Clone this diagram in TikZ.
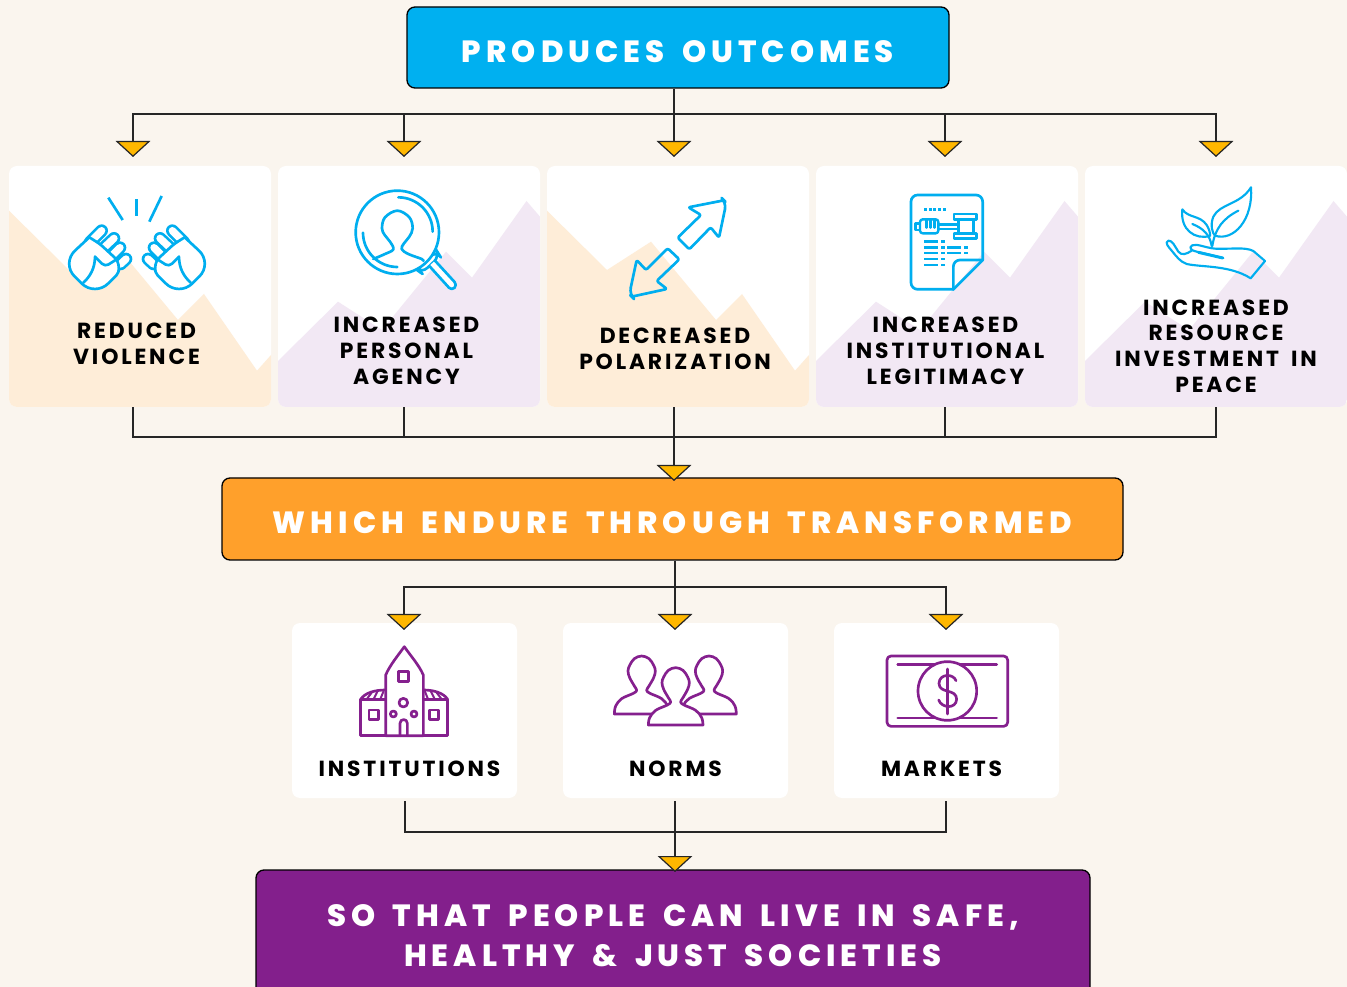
\documentclass[tikz,border=0pt]{standalone}
\usepackage{fontspec}
\setmainfont{Poppins}
\newfontfamily\lblface[LetterSpace=13,WordSpace=1.6]{Poppins}
\newfontfamily\hdface[LetterSpace=16.5,WordSpace=1.6,BoldFont={Poppins ExtraBold}]{Poppins}
\usetikzlibrary{arrows.meta}
\definecolor{bgc}{HTML}{FAF5EE}
\definecolor{peach}{HTML}{FEEDD8}
\definecolor{lilac}{HTML}{F2E8F4}
\definecolor{iconblue}{HTML}{00AEEF}
\definecolor{headblue}{HTML}{00B0F0}
\definecolor{iconpurple}{HTML}{85208E}
\definecolor{headorange}{HTML}{FFA02B}
\definecolor{headpurple}{HTML}{831F8C}
\definecolor{tipc}{HTML}{FFB700}
\def\px{0.75pt}
\tikzset{
  headbox/.style={draw=black,line width=1pt,rounded corners=6pt,text=white,align=center,inner sep=0pt,
    font=\hdface\bfseries\fontsize{23pt}{30pt}\selectfont},
  card/.style={fill=white,rounded corners=6pt,inner sep=0pt,minimum width=262*\px,minimum height=241*\px},
  smallcard/.style={fill=white,rounded corners=6pt,inner sep=0pt,minimum width=225*\px,minimum height=175*\px},
  lbl/.style={align=center,inner sep=0pt,text=black,font=\lblface\bfseries\fontsize{16.4pt}{19.3pt}\selectfont},
  conn/.style={draw=black!85,line width=0.9pt},
  tipconn/.style={conn,line join=miter,-{Triangle[width=26pt,length=12pt,fill=tipc]}},
  zoomcs/.style={x=0.25pt,y=-0.25pt},
  iconb/.style={draw=iconblue,line width=2pt,line join=round,line cap=round},
  iconp/.style={draw=iconpurple,line width=2pt,line join=round,line cap=round},
}
% card mountains, first argument is the left edge of the card
\newcommand\peachland[1]{\begin{scope}[shift={(#1,0)}]
  \clip[rounded corners=6pt] (0,166) rectangle (262,407);
  \fill[peach] (0,210.7) -- (60,270) -- (104,241.7) -- (169,320) -- (195,294) -- (248,370.7) -- (262,355) -- (262,407) -- (0,407) -- cycle;
\end{scope}}
\newcommand\lilacland[1]{\begin{scope}[shift={(#1,0)}]
  \clip[rounded corners=6pt] (0,166) rectangle (262,407);
  \fill[lilac] (0,361) -- (60,301.7) -- (104,330) -- (168,251.7) -- (194,277.7) -- (248.5,201) -- (262,216.7) -- (262,407) -- (0,407) -- cycle;
\end{scope}}
\newcommand\capsule[2]{\draw[iconblue,line width=9.5pt,line cap=round] #1 -- #2;\draw[white,line width=5.5pt,line cap=round] #1 -- #2;}
\newcommand\fistshape{%
  \capsule{(120,187)}{(155,152)}
  \capsule{(160,205)}{(192,175)}
  \capsule{(185,228)}{(210,203)}
  \capsule{(212,252)}{(228,237)}
  \draw[iconb,fill=white,rounded corners=14pt] (118,172) -- (34,250) -- (135,350) [rounded corners=3pt] -- (208,277) -- (204,242) -- (150,192) [rounded corners=6pt] -- (118,172);
  \draw[iconb,rounded corners=3pt] (200,238) -- (165,260) -- (135,230);
  \draw[iconb] (135,230) .. controls (135,265) and (120,290) .. (100,308);
}
\newcommand\bust[2]{\begin{scope}[shift={#1}]
  \draw[iconp,fill=white] (-82,#2) -- (82,#2) -- plot[smooth,tension=.6] coordinates {(82,#2) (78,150) (60,128) (25,112) (15,103) (22,90) (36,65) (41,45) (36,28) (22,8) (0,0) (-22,8) (-36,28) (-41,45) (-36,65) (-22,90) (-15,103) (-25,112) (-60,128) (-78,150) (-82,#2)} -- cycle;
\end{scope}}
\begin{document}
\begin{tikzpicture}[x=0.75pt,y=-0.75pt]
\useasboundingbox (0,0) rectangle (1347,987);
\fill[bgc] (0,0) rectangle (1347,987);

% cards
\node[card] (c1) at (140,286.5) {};
\node[card] (c2) at (409,286.5) {};
\node[card] (c3) at (678,286.5) {};
\node[card] (c4) at (947,286.5) {};
\node[card] (c5) at (1216,286.5) {};
\peachland{9}\lilacland{278}\peachland{547}\lilacland{816}\lilacland{1085}

% banners
\node[headbox,fill=headblue,minimum width=542*\px,minimum height=81*\px,text height=23pt,text depth=0pt] (head) at (678,47.5) {PRODUCES OUTCOMES};
\node[headbox,fill=headorange,minimum width=901*\px,minimum height=82*\px,text height=22pt,text depth=0pt] (mid) at (672.5,519) {WHICH ENDURE THROUGH TRANSFORMED};
\node[headbox,fill=headpurple,minimum width=834*\px,minimum height=132*\px] (end) at (673,936) {SO THAT PEOPLE CAN LIVE IN SAFE,\\HEALTHY \& JUST SOCIETIES};

% small cards
\node[smallcard] (s1) at (404.5,710.5) {};
\node[smallcard] (s2) at (675.5,710.5) {};
\node[smallcard] (s3) at (946.5,710.5) {};

% labels
\node[lbl] (l1) at (136.5,343.5) {REDUCED\\VIOLENCE};
\node[lbl] (l2) at (406.5,351) {INCREASED\\PERSONAL\\AGENCY};
\node[lbl] (l3) at (675,349) {DECREASED\\POLARIZATION};
\node[lbl] (l4) at (945.5,351) {INCREASED\\INSTITUTIONAL\\LEGITIMACY};
\node[lbl] (l5) at (1216,346) {INCREASED\\RESOURCE\\INVESTMENT IN\\PEACE};
\node[lbl] (l6) at (409.5,769) {INSTITUTIONS};
\node[lbl] (l7) at (675.5,769) {NORMS};
\node[lbl] (l8) at (941.5,769) {MARKETS};

% connectors
\coordinate (b1) at (674,114);
\coordinate (t1) at (133,157);\coordinate (t2) at (404,157);\coordinate (t3) at (674,157);\coordinate (t4) at (945,157);\coordinate (t5) at (1216,157);
\draw[conn] (head.south -| b1) -- (b1);
\draw[tipconn] (b1) -| (t1);
\draw[tipconn] (b1) -| (t2);
\draw[tipconn] (b1) -- (t3);
\draw[tipconn] (b1) -| (t4);
\draw[tipconn] (b1) -| (t5);

\coordinate (b2) at (674,437);
\coordinate (t6) at (674,481);
\draw[conn] (c1.south -| t1) |- (b2);
\draw[conn] (c2.south -| t2) |- (b2);
\draw[conn] (c4.south -| t4) |- (b2);
\draw[conn] (c5.south -| t5) |- (b2);
\draw[tipconn] (c3.south -| t3) -- (t6);

\coordinate (b3) at (675,587);
\coordinate (t7) at (404,630);\coordinate (t8) at (675,630);\coordinate (t9) at (946,630);
\draw[conn] (mid.south -| b3) -- (b3);
\draw[tipconn] (b3) -| (t7);
\draw[tipconn] (b3) -- (t8);
\draw[tipconn] (b3) -| (t9);

\coordinate (b4) at (675,832);
\coordinate (t10) at (675,872);
\coordinate (f1) at (405,801);\coordinate (f3) at (946,801);\coordinate (f2) at (675,801);
\draw[conn] (f1) |- (b4);
\draw[conn] (f3) |- (b4);
\draw[tipconn] (f2) -- (t10);

% --- icons ---
% fists and sparks
\begin{scope}[shift={(50,180)},zoomcs]
  \draw[iconb,line cap=butt] (175,53) -- (218,120);
  \draw[iconb,line cap=butt] (260,58) -- (260,108);
  \draw[iconb,line cap=butt] (335,48) -- (298,125);
  \fistshape
\end{scope}
\begin{scope}[shift={(224,180)},x=-0.25pt,y=-0.25pt]
  \fistshape
\end{scope}
% magnifier and person
\begin{scope}[shift={(340,180)},zoomcs]
  \draw[iconb,fill=white,rounded corners=6pt] (228,268) -- (290,212) -- (300,228) -- (245,280) -- cycle;
  \draw[iconb,fill=white,rounded corners=3pt] (268,258) -- (335,332) -- (352,315) -- (285,242);
  \draw[iconb,fill=white] (172,157) circle[radius=125];
  \draw[iconb] (175,52) arc[start angle=-90,end angle=0,radius=103];
  \draw[iconb] (69,158) arc[start angle=180,end angle=90,radius=103];
  \draw[iconb] plot[smooth,tension=.6] coordinates {(100,237) (135,222) (160,208) (150,185) (134,165) (126,145) (135,112) (172,92) (208,112) (218,145) (208,170) (192,190) (185,207) (205,222) (245,237) (250,243)};
\end{scope}
% double arrow
\begin{scope}[shift={(620,190)},zoomcs]
  \draw[iconb,rounded corners=1.5pt] (205,52) -- (312,31) [rounded corners=5pt] -- (319,38) [rounded corners=1.5pt] -- (297,143) -- (272,112) -- (208,178) -- (173,143) -- (243,75) -- cycle;
  \draw[iconb,rounded corners=1.5pt] (143,175) -- (178,208) -- (110,273) -- (141,297) -- (35,320) [rounded corners=5pt] -- (28,313) [rounded corners=1.5pt] -- (50,210) -- (78,240) -- cycle;
\end{scope}
% document and gavel
\begin{scope}[shift={(900,185)},zoomcs]
  \draw[iconb,rounded corners=5pt] (160,313) -- (33,313) -- (33,30) -- (248,30) -- (248,225);
  \draw[iconb] (248,225) -- (160,313);
  \draw[iconb,rounded corners=5pt] (160,313) -- (160,225) -- (248,225);
  \foreach \xa in {72,86,100,115,129} \fill[iconblue] (\xa,68) rectangle +(9,10);
  \draw[iconb,line width=1.8pt,rounded corners=2pt] (60,103) rectangle (115,145);
  \draw[iconb,line width=1.8pt] (46,115) rectangle (60,135);
  \draw[iconb,line width=1.8pt] (115,118) -- (175,118) (115,132) -- (175,132);
  \draw[iconb,line width=1.8pt] (79,105) -- (79,128) (92,105) -- (92,128) (104,105) -- (104,128);
  \draw[iconb,line width=1.8pt] (175,103) rectangle (220,145);
  \draw[iconb,line width=1.8pt] (162,87) rectangle (230,103);
  \draw[iconb,line width=1.8pt] (162,145) rectangle (230,160);
  \foreach \ya in {170,188,205,223,241} {\fill[iconblue] (72,\ya-3.5) rectangle (113,\ya+3.5);\fill[iconblue] (124,\ya-3.5) rectangle (135,\ya+3.5);}
  \foreach \ya in {188,205} {\fill[iconblue] (142,\ya-3.5) rectangle (183,\ya+3.5);\fill[iconblue] (193,\ya-3.5) rectangle (204,\ya+3.5);}
\end{scope}
% plant in a hand
\begin{scope}[shift={(1155,180)},zoomcs]
  \draw[iconb,line width=1.6pt] (288,22) .. controls (255,75) and (195,70) .. (175,110) .. controls (165,135) and (172,160) .. (180,167) .. controls (235,185) and (295,120) .. (288,22);
  \draw[iconb,line width=1.6pt] (250,92) .. controls (205,115) and (180,145) .. (172,198);
  \draw[iconb,line width=1.6pt] (82,88) .. controls (100,115) and (135,105) .. (155,135) .. controls (163,148) and (166,160) .. (165,168) .. controls (120,180) and (75,150) .. (82,88);
  \draw[iconb,line width=1.6pt] (112,132) .. controls (145,145) and (165,165) .. (170,198);
  \draw[iconb,line width=1.6pt] (330,243) -- (295,213) .. controls (270,200) and (230,208) .. (180,206) .. controls (150,203) and (125,190) .. (112,196) .. controls (100,202) and (108,212) .. (125,215) -- (205,234);
  \draw[iconb,line width=2.2pt] (130,217) -- (203,234);
  \draw[iconb,line width=1.6pt] (110,212) .. controls (95,222) and (80,228) .. (70,215) .. controls (60,200) and (52,180) .. (40,182) .. controls (28,188) and (40,200) .. (50,212) .. controls (65,230) and (75,245) .. (95,252) .. controls (140,262) and (225,255) .. (287,295) -- (330,243);
\end{scope}
% building
\begin{scope}[shift={(350,640)},zoomcs]
  \draw[iconp] (32,178) rectangle (293,287);
  \draw[iconp] (32,178) .. controls (45,158) and (75,150) .. (107,150);
  \draw[iconp] (293,178) .. controls (280,158) and (250,150) .. (220,150);
  \draw[iconp,line width=1.5pt] (52,175) -- (65,158) (72,175) -- (82,155) (92,175) -- (100,155);
  \draw[iconp,line width=1.5pt] (273,175) -- (260,158) (253,175) -- (243,155) (233,175) -- (225,155);
  \draw[iconp,fill=white] (107,287) -- (107,105) .. controls (120,75) and (145,45) .. (163,20) .. controls (180,45) and (207,75) .. (220,105) -- (220,287) -- cycle;
  \draw[iconp] (146,95) rectangle (175,125);
  \draw[iconp] (160,188) circle[radius=13];
  \draw[iconp] (130,222) circle[radius=9];
  \draw[iconp] (192,222) circle[radius=9];
  \draw[iconp] (150,287) -- (150,250) .. controls (150,235) and (172,235) .. (172,250) -- (172,287);
  \draw[iconp] (57,210) rectangle (85,238);
  \draw[iconp] (238,210) rectangle (266,238);
\end{scope}
% three people
\begin{scope}[shift={(605,645)},zoomcs]
  \bust{(110,33)}{174}
  \bust{(312,33)}{174}
  \bust{(212,68)}{172}
\end{scope}
% banknote
\begin{scope}[shift={(830,620)},zoomcs]
  \draw[iconp,rounded corners=3pt] (171,108) rectangle (533,319);
  \draw[iconp] (203,133) -- (500,133) (203,294) -- (500,294);
  \draw[iconp,fill=white] (352,213) circle[radius=88];
  \draw[iconp] (352,147) -- (352,282);
  \draw[iconp] (378,182) .. controls (370,160) and (328,160) .. (327,190) .. controls (327,222) and (380,205) .. (380,238) .. controls (378,268) and (335,265) .. (326,240);
\end{scope}
\end{tikzpicture}
\end{document}
